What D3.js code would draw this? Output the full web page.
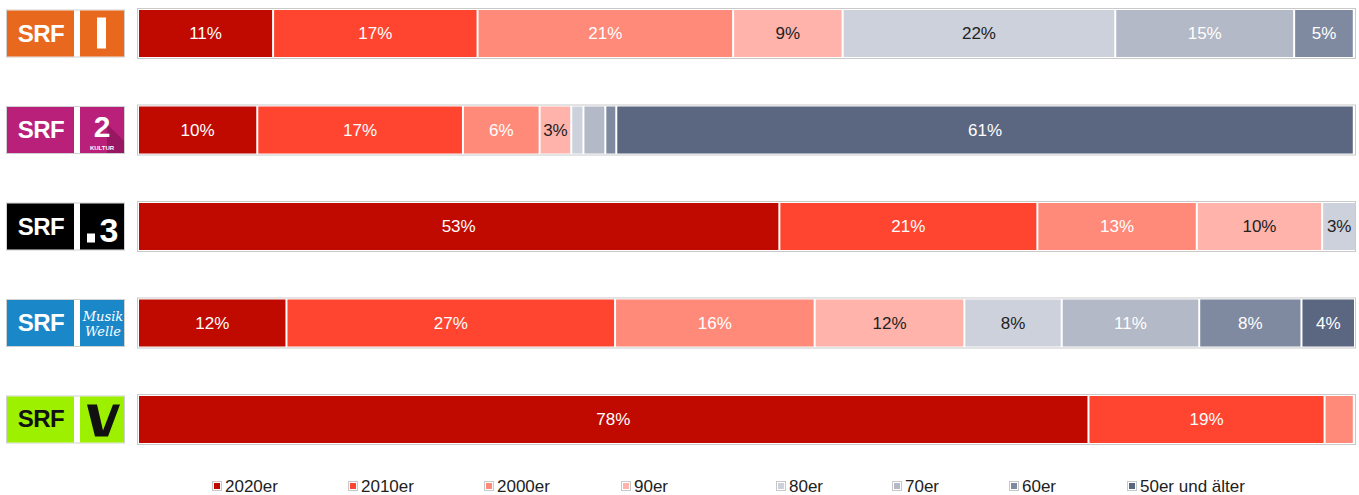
<!DOCTYPE html>
<html><head><meta charset="utf-8">
<script src="https://cdn.jsdelivr.net/npm/d3@7"></script>
<style>body{margin:0;background:#fff;} svg{display:block;font-family:"Liberation Sans",Arial,sans-serif;}</style>
</head><body><div id="chart"></div>
<script>
// ---- data ----
const stations = ["SRF 1", "SRF 2 Kultur", "SRF 3", "SRF Musikwelle", "SRF Virus"];
const decades = ["2020er", "2010er", "2000er", "90er", "80er", "70er", "60er", "50er und älter"];
const s2020 = [11.1, 9.8, 52.7, 12.2, 78.1];
const s2010 = [16.8, 16.9, 21.2, 27.0, 19.4];
const s2000 = [21.0, 6.3, 13.1, 16.4, 2.4];
const s90   = [9.0, 2.6, 10.3, 12.3, 0];
const s80   = [22.4, 1.0, 2.8, 8.0, 0];
const s70   = [14.7, 1.8, 0, 11.3, 0];
const s60   = [4.9, 0.9, 0, 8.4, 0];
const s50   = [0, 60.6, 0, 4.4, 0];
const seriesValues = [s2020, s2010, s2000, s90, s80, s70, s60, s50];

// ---- style ----
const colors = ["#C00A00", "#FF4530", "#FF8A7A", "#FFB3AB", "#CDD1DC", "#B3B9C6", "#7F8AA1", "#5B6681"];
const textColors = ["#fff", "#fff", "#fff", "#222", "#222", "#fff", "#fff", "#fff"];
const legendX = [212, 348, 484, 621, 776, 892, 1009, 1127];

const W = 1359, H = 495;
const svg = d3.select("#chart").append("svg").attr("width", W).attr("height", H);

const x = d3.scaleLinear().domain([0, 100]).range([138, 1355]);
const y = d3.scaleBand().domain(stations).range([9, 444]).paddingInner(0.492).paddingOuter(0);

const rows = stations.map((s, i) => {
  let acc = 0;
  const segs = decades.map((d, j) => {
    const v = seriesValues[j][i];
    const seg = {station: s, decade: d, j, v, x0: acc, x1: acc + v};
    acc += v;
    return seg;
  }).filter(d => d.v > 0);
  return {station: s, i, segs};
});

// frames
svg.append("g").selectAll("rect").data(stations).join("rect")
  .attr("x", 137.5).attr("y", d => y(d) - 0.5)
  .attr("width", 1218).attr("height", y.bandwidth() + 1)
  .attr("fill", "#fff").attr("stroke", "#c9c9c9").attr("stroke-width", 1);

const rowG = svg.append("g").selectAll("g").data(rows).join("g");
rowG.selectAll("rect").data(d => d.segs).join("rect")
  .attr("x", d => x(d.x0) + 1)
  .attr("y", d => y(d.station) + 1)
  .attr("width", d => Math.max(0, x(d.x1) - x(d.x0) - 2))
  .attr("height", y.bandwidth() - 2)
  .attr("fill", d => colors[d.j]);
rowG.selectAll("text").data(d => d.segs.filter(s => Math.round(s.v) >= 3)).join("text")
  .attr("x", d => (x(d.x0) + x(d.x1)) / 2)
  .attr("y", d => y(d.station) + y.bandwidth() / 2)
  .attr("dy", "0.35em").attr("text-anchor", "middle")
  .attr("font-size", 17).attr("fill", d => textColors[d.j])
  .text(d => Math.round(d.v) + "%");

// logos
const logoColors = ["#E8691E", "#B8207A", "#000000", "#1A87C9", "#9CF000"];
const logoText = ["#fff", "#fff", "#fff", "#fff", "#111"];
const logoG = svg.append("g").selectAll("g").data(stations).join("g")
  .attr("transform", d => `translate(7,${y(d) + y.bandwidth()/2 - 23})`);
logoG.append("rect").attr("x", -0.5).attr("y", -0.5).attr("width", 118).attr("height", 47)
  .attr("fill", "#fff").attr("stroke", "#d0d0d0");
logoG.append("rect").attr("x", 0).attr("y", 0).attr("width", 67).attr("height", 46)
  .attr("fill", (d, i) => logoColors[i]);
logoG.append("rect").attr("x", 73).attr("y", 0).attr("width", 44).attr("height", 46)
  .attr("fill", (d, i) => logoColors[i]);
logoG.append("text").attr("x", 34).attr("y", 31).attr("text-anchor", "middle")
  .attr("font-size", 24).attr("font-weight", "bold").attr("letter-spacing", -0.5)
  .attr("fill", (d, i) => logoText[i]).text("SRF");

logoG.each(function(d, i) {
  const g = d3.select(this);
  if (i === 0) {
    g.append("rect").attr("x", 90).attr("y", 7).attr("width", 9).attr("height", 31).attr("fill", "#fff");
  } else if (i === 1) {
    g.append("path").attr("d", "M100,17 L117,34 L117,46 L100,46 Z").attr("fill", "#8a1459").attr("opacity", 0.7);
    g.append("text").attr("x", 95).attr("y", 30).attr("text-anchor", "middle")
      .attr("font-size", 30).attr("font-weight", "bold").attr("fill", "#fff").text("2");
    g.append("text").attr("x", 95).attr("y", 43).attr("text-anchor", "middle")
      .attr("font-size", 6).attr("font-weight", "bold").attr("fill", "#fff").text("KULTUR");
  } else if (i === 2) {
    g.append("rect").attr("x", 80).attr("y", 30).attr("width", 8).attr("height", 9).attr("fill", "#fff");
    g.append("text").attr("x", 102).attr("y", 38).attr("text-anchor", "middle")
      .attr("font-size", 34).attr("font-weight", "bold").attr("fill", "#fff").text("3");
  } else if (i === 3) {
    g.append("text").attr("x", 96).attr("y", 21).attr("text-anchor", "middle")
      .attr("font-size", 13).attr("font-style", "italic").attr("font-family", "DejaVu Serif")
      .attr("fill", "#fff").text("Musik");
    g.append("text").attr("x", 96).attr("y", 36).attr("text-anchor", "middle")
      .attr("font-size", 13).attr("font-style", "italic").attr("font-family", "DejaVu Serif")
      .attr("fill", "#fff").text("Welle");
  } else if (i === 4) {
    g.append("path").attr("d", "M80,8 L90,8 L96,34 L106,8 L113,8 L101,40 L88,40 Z").attr("fill", "#111");
  }
});

// legend
const lg = svg.append("g").selectAll("g").data(decades).join("g")
  .attr("transform", (d, i) => `translate(${legendX[i]},486)`);
lg.append("rect").attr("x", 0.5).attr("y", -4.5).attr("width", 9).attr("height", 9)
  .attr("fill", "#fff").attr("stroke", "#c8c8c8");
lg.append("rect").attr("x", 2).attr("y", -3).attr("width", 6).attr("height", 6)
  .attr("fill", (d, i) => colors[i]);
lg.append("text").attr("x", 13).attr("y", 0).attr("dy", "0.33em")
  .attr("font-size", 17).attr("fill", "#222").text(d => d);
</script></body></html>
